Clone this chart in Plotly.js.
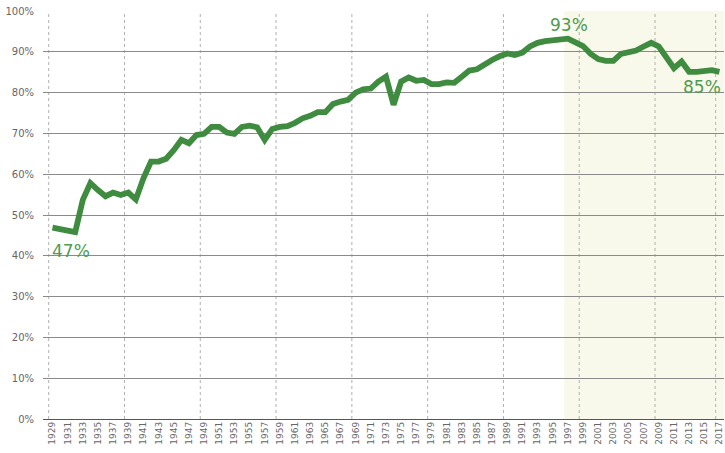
<!DOCTYPE html>
<html>
<head>
<meta charset="utf-8">
<script src="https://cdn.plot.ly/plotly-3.0.1.min.js"></script>
<style>html,body{margin:0;padding:0;background:#fff;}#chart{width:725px;height:453px;}</style>
</head>
<body>
<div id="chart"></div>
<script>
var years = [1929,1930,1931,1932,1933,1934,1935,1936,1937,1938,1939,1940,1941,1942,1943,1944,1945,1946,1947,1948,1949,1950,1951,1952,1953,1954,1955,1956,1957,1958,1959,1960,1961,1962,1963,1964,1965,1966,1967,1968,1969,1970,1971,1972,1973,1974,1975,1976,1977,1978,1979,1980,1981,1982,1983,1984,1985,1986,1987,1988,1989,1990,1991,1992,1993,1994,1995,1996,1997,1998,1999,2000,2001,2002,2003,2004,2005,2006,2007,2008,2009,2010,2011,2012,2013,2014,2015,2016,2017];
var values = [46.9,46.5,46.3,45.8,53.7,57.8,56.1,54.6,55.5,54.9,55.5,53.8,59.0,63.1,63.1,63.8,65.9,68.4,67.6,69.6,69.9,71.6,71.6,70.2,69.9,71.6,71.9,71.5,68.4,71.1,71.6,71.8,72.6,73.7,74.3,75.2,75.2,77.2,77.8,78.2,80.0,80.8,81.0,82.7,83.9,77.0,82.7,83.7,82.9,83.1,82.1,82.1,82.5,82.4,83.9,85.4,85.7,87.0,88.0,88.9,89.6,89.2,89.8,91.3,92.2,92.6,92.9,92.9,93.2,92.3,91.4,89.5,88.2,87.8,87.8,89.5,90.0,90.3,91.3,92.2,91.3,88.4,86.0,87.6,85.1,85.1,85.4,85.5,85.1];
var tickYears = [1929,1931,1933,1935,1937,1939,1941,1943,1945,1947,1949,1951,1953,1955,1957,1959,1961,1963,1965,1967,1969,1971,1973,1975,1977,1979,1981,1983,1985,1987,1989,1991,1993,1995,1997,1999,2001,2003,2005,2007,2009,2011,2013,2015,2017];
var tickLabels = tickYears.map(String);
var yTicks = [0,10,20,30,40,50,60,70,80,90,100];
var yTickLabels = ["0%","10%","20%","30%","40%","50%","60%","70%","80%","90%","100%"];
var vGridYears = [1928.5,1938.5,1948.5,1958.5,1968.5,1978.5,1988.5,1998.5,2008.5,2016.5];
var shadeStart = 1996.5, shadeEnd = 2017.6;
var labelFirst = "47%", labelPeak = "93%", labelLast = "85%";
var peakYear = 1997;

var lineColor = '#3f8b3f';
var textColor = '#4f9b4f';

var shapes = [{
  type:'rect', xref:'x', yref:'paper', x0:shadeStart, x1:shadeEnd, y0:0, y1:1,
  fillcolor:'#f9f9eb', line:{width:0}, layer:'below'
}];
vGridYears.forEach(function(yr){
  shapes.push({type:'line', xref:'x', yref:'paper', x0:yr, x1:yr, y0:0, y1:1,
    line:{color:'#b0b0b0', width:1, dash:'3px,3px'}, layer:'below'});
});

var n = years.length;
var annotations = [
  {x:years[0], y:values[0], text:labelFirst, showarrow:false, xanchor:'left', yanchor:'top', yshift:-11, xshift:-2,
   font:{family:'DejaVu Sans', size:17, color:textColor}},
  {x:peakYear, y:values[years.indexOf(peakYear)], text:labelPeak, showarrow:false, xanchor:'center', yanchor:'bottom', yshift:2, xshift:1,
   font:{family:'DejaVu Sans', size:17, color:textColor}},
  {x:years[n-1], y:values[n-1], text:labelLast, showarrow:false, xanchor:'right', yanchor:'top', yshift:-3, xshift:4,
   font:{family:'DejaVu Sans', size:17, color:textColor}}
];

var trace = {
  x: years, y: values, type:'scatter', mode:'lines',
  line:{color:lineColor, width:5.8},
  hoverinfo:'skip', cliponaxis:false
};

var layout = {
  width:725, height:453,
  margin:{l:43, r:1, t:11, b:34},
  paper_bgcolor:'#ffffff', plot_bgcolor:'rgba(0,0,0,0)',
  showlegend:false,
  xaxis:{
    range:[1927.75, 2017.6], showgrid:false, zeroline:false, showline:false,
    tickmode:'array', tickvals:tickYears, ticktext:tickLabels, tickangle:-90,
    ticks:'', ticklen:0,
    tickfont:{family:'DejaVu Sans', size:9, color:'#666666'}
  },
  yaxis:{
    range:[0,100], tickmode:'array', tickvals:yTicks, ticktext:yTickLabels,
    showgrid:true, gridcolor:'#8a8a8a', gridwidth:1,
    zeroline:true, zerolinecolor:'#555555', zerolinewidth:1,
    showline:false, ticks:'', ticklabelstandoff:8,
    tickfont:{family:'DejaVu Sans', size:10, color:'#666666'}
  },
  shapes: shapes,
  annotations: annotations
};

Plotly.newPlot('chart', [trace], layout, {displayModeBar:false, staticPlot:true});
</script>
</body>
</html>
